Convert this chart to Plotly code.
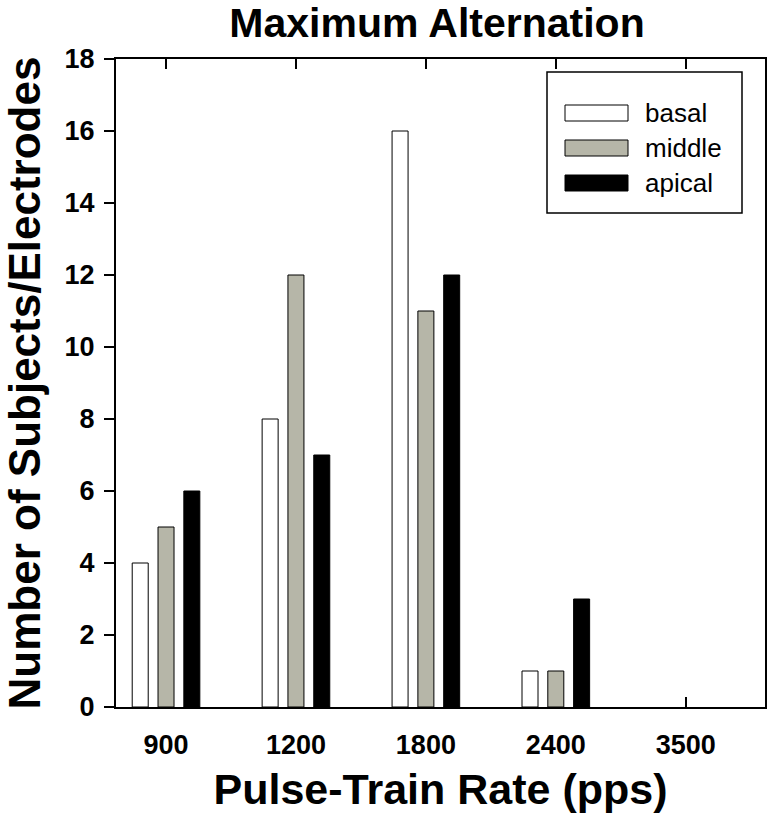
import plotly.graph_objects as go

categories = ["900", "1200", "1800", "2400", "3500"]
series_names = ["basal", "middle", "apical"]
basal = [4, 8, 16, 1, 0]
middle = [5, 12, 11, 1, 0]
apical = [6, 7, 12, 3, 0]
y_ticks = [0, 2, 4, 6, 8, 10, 12, 14, 16, 18]

colors = ["#ffffff", "#b6b6a8", "#000000"]
FONT = "Liberation Sans"
W, H = 775, 830

fig = go.Figure()
for name, vals, col in zip(series_names, [basal, middle, apical], colors):
    fig.add_trace(go.Bar(x=categories, y=vals, name=name,
                         marker=dict(color=col,
                                     line=dict(color="black",
                                               width=[1 if v > 0 else 0 for v in vals])),
                         showlegend=False))

# pixel geometry of plot area
px0, px1, py0, py1 = 116, 765, 59, 707
def fx(p): return (p - px0) / (px1 - px0)
def fy(p): return (py1 - p) / (py1 - py0)

# manual legend (wide swatches like the original)
L, R, T, B = 547, 742, 72, 213
shapes = [dict(type="rect", xref="paper", yref="paper", x0=fx(L), x1=fx(R),
               y0=fy(B), y1=fy(T), line=dict(color="black", width=1.5),
               fillcolor="white", layer="above")]
annotations = []
rows = [113, 148, 183]
for name, col, yc in zip(series_names, colors, rows):
    shapes.append(dict(type="rect", xref="paper", yref="paper", x0=fx(565), x1=fx(628),
                       y0=fy(yc + 8), y1=fy(yc - 8), line=dict(color="black", width=1),
                       fillcolor=col, layer="above"))
    annotations.append(dict(xref="paper", yref="paper", x=fx(643), y=fy(yc),
                            text=name, showarrow=False, xanchor="left", yanchor="middle",
                            font=dict(family=FONT, size=26, color="black")))

fig.update_layout(
    width=W, height=H,
    margin=dict(l=px0, r=W - px1, t=py0, b=H - py1, autoexpand=False),
    paper_bgcolor="white", plot_bgcolor="white",
    barmode="group", bargap=0.404, bargroupgap=0.38,
    title=dict(text="<b>Maximum Alternation</b>", x=fx(437), xref="paper",
               y=1 - 23 / H, yanchor="middle", xanchor="center",
               font=dict(family=FONT, size=41, color="black")),
    xaxis=dict(type="category", range=[-0.385, 4.61], showline=True, linecolor="black",
               linewidth=2, mirror="ticks", ticks="inside", ticklen=10, tickwidth=2,
               tickcolor="black", layer="below traces", ticklabelstandoff=13,
               automargin=False,
               tickfont=dict(family=FONT, size=27, color="black", weight="bold"),
               title=dict(text="<b>Pulse-Train Rate (pps)</b>", standoff=14,
                          font=dict(family=FONT, size=43, color="black")),
               showgrid=False, zeroline=False, fixedrange=True),
    yaxis=dict(range=[0, 18], tickvals=y_ticks, showline=True, linecolor="black",
               linewidth=2, mirror=True, ticks="outside", ticklen=10, tickwidth=2,
               tickcolor="black", ticklabelstandoff=4, automargin=False,
               tickfont=dict(family=FONT, size=27, color="black", weight="bold"),
               title=dict(text="<b>Number of Subjects/Electrodes</b>", standoff=12,
                          font=dict(family=FONT, size=44, color="black")),
               showgrid=False, zeroline=False),
    yaxis2=dict(range=[0, 18], tickvals=y_ticks, overlaying="y", side="right",
                ticks="inside", ticklen=10, tickwidth=2, tickcolor="black",
                automargin=False,
                showticklabels=False, showline=False, showgrid=False, zeroline=False),
    shapes=shapes, annotations=annotations,
)

fig.write_html("out.html", config={"displayModeBar": False},
               post_script="document.body.style.margin='0';document.body.style.overflow='hidden';")
